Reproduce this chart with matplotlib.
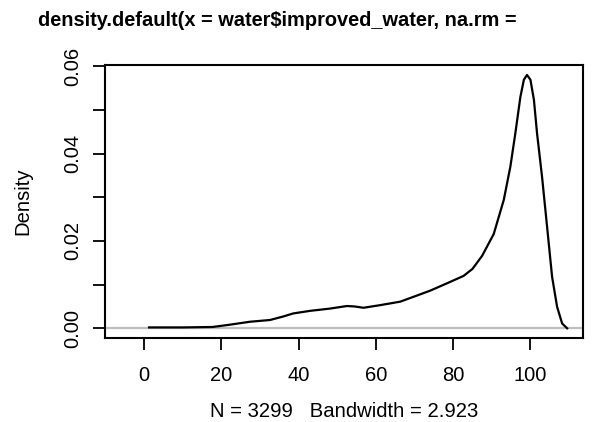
import numpy as np
import matplotlib
matplotlib.use("Agg")
import matplotlib.pyplot as plt

# kernel density estimate of improved_water
x = [1.3, 10, 17.7, 22, 27.4, 32.6, 36, 38.6, 43, 48, 52.5, 54.5, 56.8, 61.1,
     66.3, 69.7, 74, 78.4, 82.7, 85, 87.5, 90.5, 93.1, 94.8, 96.1,
     97.4, 98.3, 99.1, 100, 100.9, 101.7, 103.0, 104.3, 105.6, 106.9,
     108.2, 109.5]
density = [0.0002, 0.0002, 0.0003, 0.0008, 0.0015, 0.0019, 0.0027, 0.0034,
           0.0040, 0.0045, 0.0051, 0.0050, 0.0047, 0.0053, 0.0061, 0.0072,
           0.0086, 0.0103, 0.0120, 0.0136, 0.0166, 0.0216, 0.0294,
           0.0370, 0.0447, 0.0530, 0.0569, 0.0580, 0.0569, 0.0523, 0.0447,
           0.0347, 0.0233, 0.0118, 0.0049, 0.0011, 0.0]

xticks = [0, 20, 40, 60, 80, 100]
yticks = [0.00, 0.01, 0.02, 0.03, 0.04, 0.05, 0.06]
ylabels = ["0.00", "", "0.02", "", "0.04", "", "0.06"]

plt.rcParams['font.family'] = ['Liberation Sans', 'DejaVu Sans']

W, H = 604, 422
fig = plt.figure(figsize=(W / 100, H / 100), dpi=100)
ax = fig.add_axes([105 / W, 1 - 338 / H, (583 - 105) / W, (338 - 65) / H])

ax.axhline(0, color="#bebebe", lw=1.6, zorder=1)
ax.plot(x, density, color="black", lw=1.6, zorder=2,
        solid_joinstyle="round")

ax.set_xlim(-10.1, 113.6)
ax.set_ylim(-0.00222, 0.06028)

ax.set_xticks(xticks)
ax.set_xticklabels([str(v) for v in xticks])
ax.set_yticks(yticks)
ax.set_yticklabels(ylabels, rotation=90, va="center")

ax.tick_params(axis="both", direction="out", length=8.5, width=1.3,
               labelsize=14.5)
ax.tick_params(axis="x", pad=12)
ax.tick_params(axis="y", pad=8)
for s in ax.spines.values():
    s.set_linewidth(1.5)

ax.set_ylabel("Density", fontsize=14.6, labelpad=22)
ax.set_xlabel("N = 3299   Bandwidth = 2.923", fontsize=14.6, labelpad=12)

fig.text(38 / W, 1 - 20 / H,
         "density.default(x = water$improved_water, na.rm =",
         fontsize=14.4, fontweight="bold", ha="left", va="center")

fig.savefig("out.png", dpi=100)
